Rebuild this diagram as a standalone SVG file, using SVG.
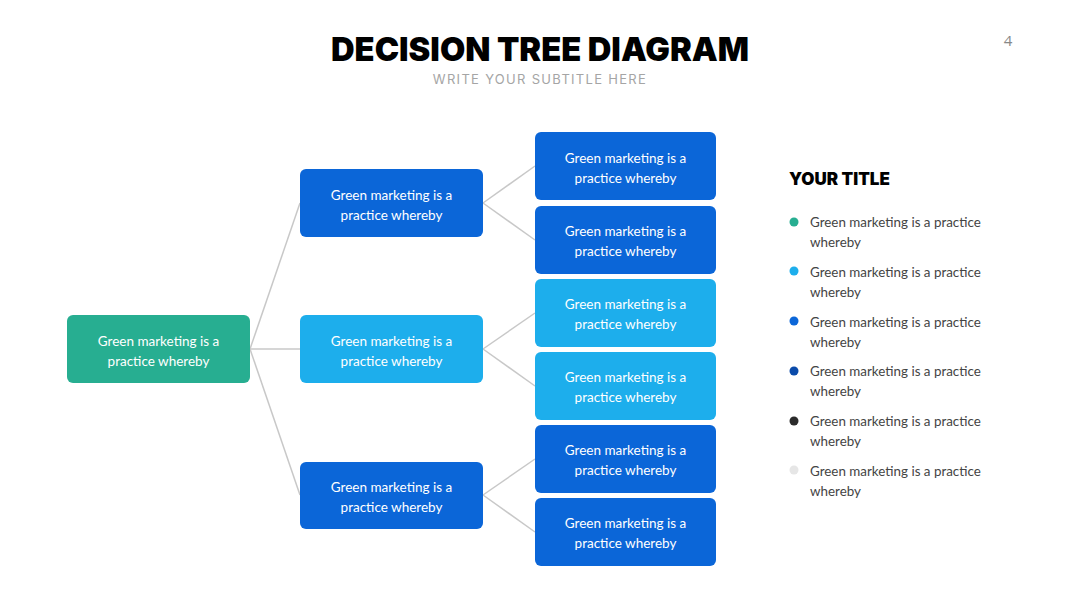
<svg xmlns="http://www.w3.org/2000/svg" width="1080" height="608" viewBox="0 0 1080 608">
<style>
.t{font-family:Lato,"Open Sans",sans-serif;font-size:13.5px;fill:#fff;text-anchor:middle}
.l{font-family:Lato,"Open Sans",sans-serif;font-size:13.4px;fill:#444}
.c{stroke:#c8c8c8;stroke-width:1.5;fill:none}
.teal{fill:#27AE91}.blue{fill:#0B66D8}.light{fill:#1DAEEC}
</style>
<rect width="1080" height="608" fill="#fff"/>
<text x="540" y="61" text-anchor="middle" font-family="Inter,'Liberation Sans',sans-serif" font-weight="900" font-size="32.7" fill="#000">DECISION TREE DIAGRAM</text>
<text x="540" y="84" text-anchor="middle" font-family="Inter,'Liberation Sans',sans-serif" font-size="13" letter-spacing="1.3" fill="#a5a5a5">WRITE YOUR SUBTITLE HERE</text>
<text x="1008" y="46" text-anchor="middle" font-family="'Open Sans',sans-serif" font-size="15" fill="#888">4</text>
<g id="connectors" class="c">
<line x1="250" y1="349" x2="300" y2="203"/>
<line x1="250" y1="349" x2="300" y2="349"/>
<line x1="250" y1="349" x2="300" y2="495"/>
<line x1="483" y1="203" x2="535" y2="166"/>
<line x1="483" y1="203" x2="535" y2="240"/>
<line x1="483" y1="349" x2="535" y2="313"/>
<line x1="483" y1="349" x2="535" y2="386"/>
<line x1="483" y1="495" x2="535" y2="459"/>
<line x1="483" y1="495" x2="535" y2="532"/>
</g>
<g id="root"><rect class="teal" x="67" y="315" width="183" height="68" rx="6"/><text class="t" x="158.5" y="346">Green marketing is a</text><text class="t" x="158.5" y="366">practice whereby</text></g>
<g id="n1"><rect class="blue" x="300" y="169" width="183" height="68" rx="6"/><text class="t" x="391.5" y="200">Green marketing is a</text><text class="t" x="391.5" y="220">practice whereby</text></g>
<g id="n2"><rect class="light" x="300" y="315" width="183" height="68" rx="6"/><text class="t" x="391.5" y="346">Green marketing is a</text><text class="t" x="391.5" y="366">practice whereby</text></g>
<g id="n3"><rect class="blue" x="300" y="462" width="183" height="67" rx="6"/><text class="t" x="391.5" y="492">Green marketing is a</text><text class="t" x="391.5" y="512">practice whereby</text></g>
<g id="n11"><rect class="blue" x="535" y="132" width="181" height="68" rx="6"/><text class="t" x="625.5" y="163">Green marketing is a</text><text class="t" x="625.5" y="183">practice whereby</text></g>
<g id="n12"><rect class="blue" x="535" y="206" width="181" height="68" rx="6"/><text class="t" x="625.5" y="236">Green marketing is a</text><text class="t" x="625.5" y="256">practice whereby</text></g>
<g id="n21"><rect class="light" x="535" y="279" width="181" height="68" rx="6"/><text class="t" x="625.5" y="309">Green marketing is a</text><text class="t" x="625.5" y="329">practice whereby</text></g>
<g id="n22"><rect class="light" x="535" y="352" width="181" height="68" rx="6"/><text class="t" x="625.5" y="382">Green marketing is a</text><text class="t" x="625.5" y="402">practice whereby</text></g>
<g id="n31"><rect class="blue" x="535" y="425" width="181" height="68" rx="6"/><text class="t" x="625.5" y="455">Green marketing is a</text><text class="t" x="625.5" y="475">practice whereby</text></g>
<g id="n32"><rect class="blue" x="535" y="498" width="181" height="68" rx="6"/><text class="t" x="625.5" y="528">Green marketing is a</text><text class="t" x="625.5" y="548">practice whereby</text></g>
<g id="legend">
<text x="789" y="185" font-family="Inter,'Liberation Sans',sans-serif" font-weight="900" font-size="17" fill="#000">YOUR TITLE</text>
<circle cx="794" cy="222" r="4.5" fill="#27AE91"/><text class="l" x="810" y="227">Green marketing is a practice</text><text class="l" x="810" y="247">whereby</text>
<circle cx="794" cy="271" r="4.5" fill="#1DAEEC"/><text class="l" x="810" y="277">Green marketing is a practice</text><text class="l" x="810" y="297">whereby</text>
<circle cx="794" cy="321" r="4.5" fill="#0B66D8"/><text class="l" x="810" y="327">Green marketing is a practice</text><text class="l" x="810" y="347">whereby</text>
<circle cx="794" cy="371" r="4.5" fill="#0A4BAA"/><text class="l" x="810" y="376">Green marketing is a practice</text><text class="l" x="810" y="396">whereby</text>
<circle cx="794" cy="421" r="4.5" fill="#2B2B2B"/><text class="l" x="810" y="426">Green marketing is a practice</text><text class="l" x="810" y="446">whereby</text>
<circle cx="794" cy="470" r="4.5" fill="#E6E6E6"/><text class="l" x="810" y="476">Green marketing is a practice</text><text class="l" x="810" y="496">whereby</text>
</g>
</svg>
